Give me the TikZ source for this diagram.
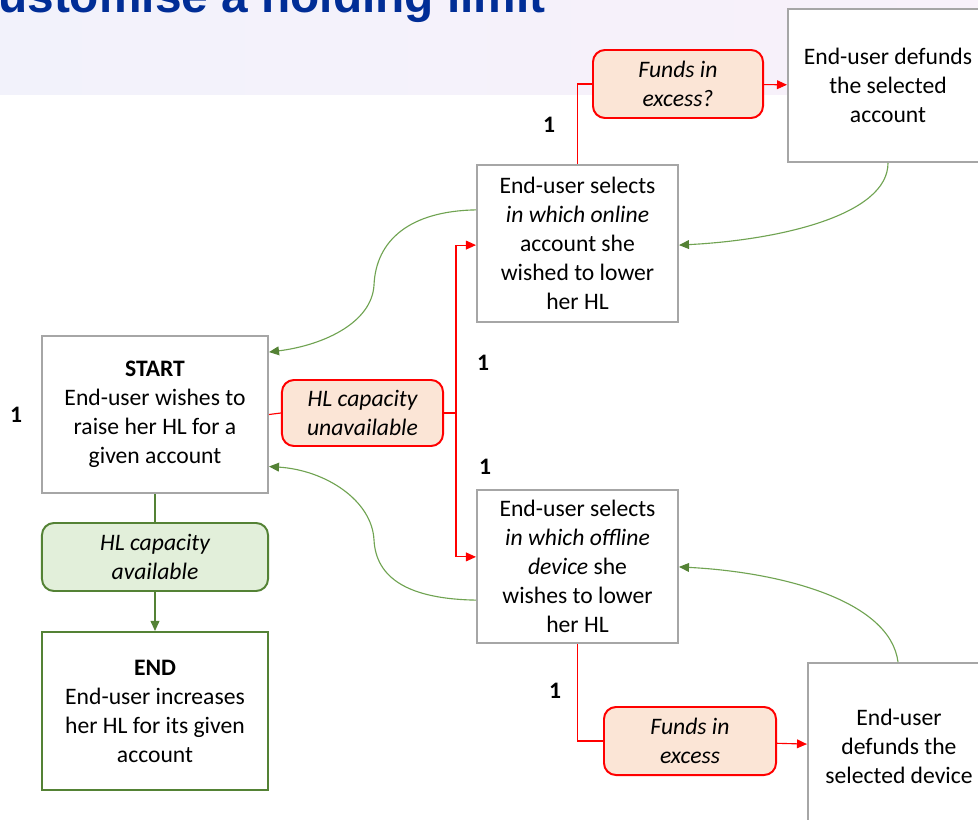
\documentclass[tikz,border=0pt]{standalone}
\usepackage{fontspec}
\setmainfont{Carlito}
\newfontfamily\titlefont{Liberation Sans}
\usetikzlibrary{arrows.meta,positioning,shapes}
\definecolor{boxgray}{RGB}{166,166,166}
\definecolor{okgreen}{RGB}{84,130,53}
\definecolor{okfill}{RGB}{226,239,218}
\definecolor{curvegreen}{RGB}{112,163,82}
\definecolor{badfill}{RGB}{251,229,214}
\definecolor{titleblue}{RGB}{0,45,150}
\definecolor{bandleft}{RGB}{242,242,251}
\definecolor{bandright}{RGB}{248,241,250}
\begin{document}
\begin{tikzpicture}[x=0.025cm,y=-0.025cm,
  font=\fontsize{16.8}{20.6}\selectfont,
  stepbox/.style={draw=boxgray,line width=1.4pt,fill=white,align=center,inner sep=0pt},
  endbox/.style={stepbox,draw=okgreen},
  yesbox/.style={draw=okgreen,line width=1.4pt,fill=okfill,rounded corners=0.3cm,align=center,
    font=\fontsize{16.8}{20.6}\selectfont\itshape,inner sep=0pt,minimum height=1.7cm},
  nobox/.style={yesbox,draw=red,fill=badfill},
  redline/.style={draw=red,line width=0.8pt},
  redarrow/.style={redline,-{Triangle[length=0.25cm,width=0.22cm]}},
  backarrow/.style={draw=curvegreen,line width=0.8pt,-{Triangle[length=0.25cm,width=0.22cm,color=okgreen]}},
  count/.style={font=\fontsize{16.8}{20.6}\selectfont\bfseries}]
\useasboundingbox (0,0) rectangle (978,820);
\clip (0,0) rectangle (978,820);
% header band and title
\shade[left color=bandleft,right color=bandright] (0,0) rectangle (978,95);
\node[anchor=base west,inner sep=0pt,text=titleblue,
  font=\titlefont\fontsize{34}{40}\selectfont\bfseries] (title) at (-2,13) {ustomise a holding limit};

% left column
\node[stepbox,minimum width=5.65cm,minimum height=3.925cm] (start) at (155,414.5)
  {\textbf{START}\\End-user wishes to\\raise her HL for a\\given account};
\node[yesbox,minimum width=5.65cm] (avail) at (155,557) {HL capacity\\available};
\node[endbox,minimum width=5.65cm,minimum height=3.95cm] (finish) at (155,711)
  {\textbf{END}\\End-user increases\\her HL for its given\\account};
\node[nobox,minimum width=4.025cm,minimum height=1.65cm] (unavail) at (362.5,413) {HL capacity\\unavailable};

% middle column
\node[stepbox,minimum width=5.025cm,minimum height=3.925cm] (online) at (577.5,243.5)
  {End-user selects\\\textit{in which online}\\account she\\wished to lower\\her HL};
\node[stepbox,minimum width=5.025cm,minimum height=3.825cm] (offline) at (577.5,566.5)
  {End-user selects\\\textit{in which offline}\\\textit{device} she\\wishes to lower\\her HL};

% right column
\node[nobox,minimum width=4.25cm] (fundsq) at (678,84) {Funds in\\excess?};
\node[stepbox,minimum width=5cm,minimum height=3.825cm] (defacc) at (888,85.5)
  {End-user defunds\\the selected\\account};
\node[nobox,minimum width=4.3cm] (fundsx) at (690,741) {Funds in\\excess};
\node[stepbox,minimum width=4.55cm,minimum height=4.175cm] (defdev) at (899,746.5)
  {End-user\\defunds the\\selected device};

% counts
\node[count] (n1) at (16,415) {1};
\node[count] (n2) at (549,125) {1};
\node[count] (n3) at (483,363) {1};
\node[count] (n4) at (485,467) {1};
\node[count] (n5) at (555,691) {1};

% connectors
\draw[okgreen,line width=0.8pt] (start) -- (avail);
\draw[okgreen,line width=0.8pt,-{Triangle[length=0.25cm,width=0.22cm]}] (avail) -- (finish);
\draw[redline] (start.east) -- (unavail.west);
\draw[redline] (unavail.east) -- ++(12,0) coordinate (split);
\draw[redarrow] (split) |- ([yshift=-0.04cm]online.west);
\draw[redarrow] (split) |- ([yshift=0.24cm]offline.west);
\draw[redline] (online.north) |- (fundsq.west);
\draw[redarrow] (fundsq) -- (defacc);
\draw[redline] (offline.south) |- (fundsx.west);
\draw[redarrow] (fundsx) -- (defdev);

\draw[backarrow] ([yshift=0.84cm]online.west) .. controls (410,211) and (376,240) .. (374,285)
  .. controls (372,322) and (325,345) .. ([yshift=1.56cm]start.east);
\draw[backarrow] ([yshift=-0.84cm]offline.west) .. controls (408,599) and (376,578) .. (374,540)
  .. controls (372,500) and (325,470) .. ([yshift=-1.3cm]start.east);
\draw[backarrow] (defacc.south) .. controls (888,215) and (780,240) .. ([yshift=-0.04cm]online.east);
\draw[backarrow] ([xshift=-0.025cm]defdev.north) .. controls (890,600) and (780,572) .. ([yshift=-0.01cm]offline.east);
\end{tikzpicture}
\end{document}
